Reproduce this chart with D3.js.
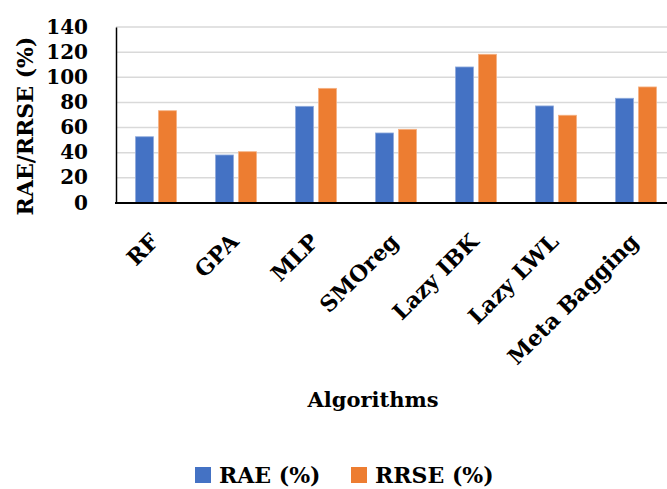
<!DOCTYPE html>
<html>
<head>
<meta charset="utf-8">
<script src="https://cdn.jsdelivr.net/npm/d3@7"></script>
<style>
  html, body { margin: 0; padding: 0; background: #fff; }
  svg { display: block; font-family: "DejaVu Serif", serif; font-weight: bold; }
</style>
</head>
<body>
<svg id="chart" width="667" height="489"></svg>
<script>
// Error rates per algorithm
const algorithms = ["RF", "GPA", "MLP", "SMOreg", "Lazy IBK", "Lazy LWL", "Meta Bagging"];
const seriesNames = ["RAE (%)", "RRSE (%)"];
const raeValues  = [52.7, 38.2, 76.9, 55.7, 108.2, 77.2, 83.3];
const rrseValues = [73.4, 40.8, 91.2, 58.6, 118.3, 69.8, 92.3];
const yTicks = [0, 20, 40, 60, 80, 100, 120, 140];
const colors = ["#4472C4", "#ED7D31"];
const strokes = ["#8FAADC", "#F4B183"];

const rows = algorithms.map((a, i) => ({ name: a, values: [raeValues[i], rrseValues[i]] }));

const svg = d3.select("#chart");
const plotLeft = 116, plotRight = 676, plotTop = 27, plotBottom = 203;

const x0 = d3.scaleBand().domain(algorithms).range([plotLeft, plotRight])
  .paddingInner(39 / 80).paddingOuter(39 / 160);
const x1 = d3.scaleBand().domain(seriesNames).range([0, x0.bandwidth()])
  .paddingInner(5 / 23);
const y = d3.scaleLinear().domain([0, 140]).range([plotBottom, plotTop]);

// Horizontal gridlines
svg.append("g").selectAll("line").data(yTicks.filter(t => t > 0)).join("line")
  .attr("x1", plotLeft).attr("x2", 667)
  .attr("y1", d => y(d)).attr("y2", d => y(d))
  .attr("stroke", "#d9d9d9").attr("stroke-width", 1.5);

// Bars
const groups = svg.append("g").selectAll("g").data(rows).join("g")
  .attr("transform", d => `translate(${x0(d.name)},0)`);
groups.selectAll("rect").data(d => d.values.map((v, k) => ({ key: seriesNames[k], k, v })))
  .join("rect")
  .attr("x", d => x1(d.key))
  .attr("width", x1.bandwidth())
  .attr("y", d => y(d.v))
  .attr("height", d => y(0) - y(d.v))
  .attr("fill", d => colors[d.k])
  .attr("stroke", d => strokes[d.k])
  .attr("stroke-width", 0.8);

// Y axis
const yAxis = d3.axisLeft(y).tickValues(yTicks).tickSize(0).tickPadding(28);
const gy = svg.append("g").attr("transform", `translate(${plotLeft},0)`).call(yAxis);
gy.attr("font-size", null).attr("font-family", null);
gy.select(".domain").attr("stroke", "#000").attr("stroke-width", 1.5);
gy.selectAll("text")
  .style("font-size", "20px").style("font-family", "'DejaVu Serif', serif")
  .style("font-weight", "bold").attr("fill", "#000")
  .attr("dy", "0.3em");

// X axis baseline
svg.append("line").attr("x1", plotLeft - 1).attr("x2", 667)
  .attr("y1", y(0)).attr("y2", y(0))
  .attr("stroke", "#000").attr("stroke-width", 2);

// Category labels, rotated
svg.append("g").selectAll("text").data(algorithms).join("text")
  .attr("transform", d => `translate(${x0(d) + x0.bandwidth() / 2 + 4},${243}) rotate(-45)`)
  .attr("text-anchor", "end")
  .style("font-size", "22px")
  .attr("fill", "#000")
  .text(d => d);

// Axis titles
svg.append("text")
  .attr("transform", `translate(33,126) rotate(-90)`)
  .attr("text-anchor", "middle").style("font-size", "22px").attr("fill", "#000")
  .text("RAE/RRSE (%)");

svg.append("text")
  .attr("x", 373).attr("y", 407)
  .attr("text-anchor", "middle").style("font-size", "21px").attr("fill", "#000")
  .text("Algorithms");

// Legend
const legendX = [195, 351];
const legend = svg.append("g").selectAll("g").data(seriesNames).join("g")
  .attr("transform", (d, i) => `translate(${legendX[i]},467)`);
legend.append("rect").attr("width", 16).attr("height", 16)
  .attr("fill", (d, i) => colors[i]);
legend.append("text").attr("x", 24).attr("y", 15.5)
  .style("font-size", "22px").attr("fill", "#000")
  .text(d => d);
</script>
</body>
</html>
